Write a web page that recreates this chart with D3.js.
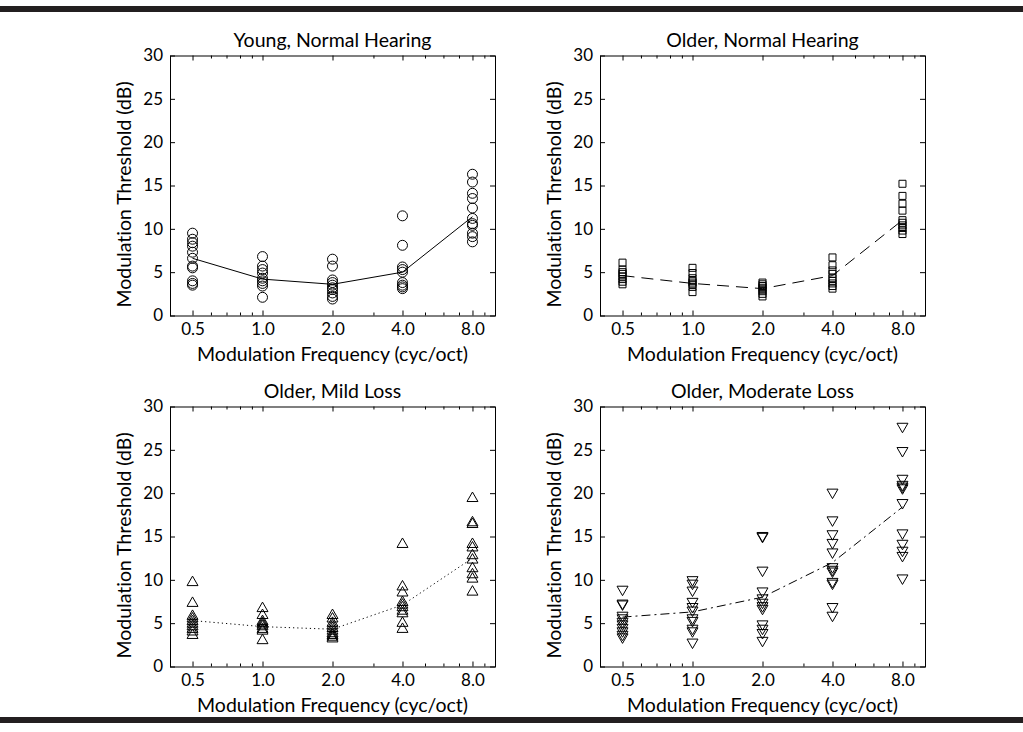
<!DOCTYPE html>
<html>
<head>
<meta charset="utf-8">
<script src="https://cdn.jsdelivr.net/npm/d3@7/dist/d3.min.js"></script>
<style>
  body { margin: 0; background: #fff; }
  svg { display: block; font-family: Lato, "Open Sans", sans-serif; font-variant-ligatures: none; }
</style>
</head>
<body>
<div id="chart"></div>
<script>
// modulation frequencies (cyc/oct), log axis
var freqs = [0.5, 1, 2, 4, 8];
var freqLabels = ["0.5", "1.0", "2.0", "4.0", "8.0"];
var minorFreqs = [0.6, 0.7, 0.8, 0.9, 3, 5, 6, 7, 9];
var yTicks = [0, 5, 10, 15, 20, 25, 30];

// individual thresholds (dB), one array per frequency
var youngNormal = [
  [9.5, 8.8, 8.4, 8.0, 7.3, 6.6, 5.7, 5.5, 4.0, 3.7, 3.5],
  [6.8, 5.7, 5.3, 4.9, 4.3, 4.0, 3.7, 3.4, 2.1],
  [6.5, 5.7, 4.1, 3.8, 3.5, 3.2, 3.0, 2.6, 2.2, 1.9],
  [11.5, 8.1, 5.6, 5.3, 5.0, 3.8, 3.5, 3.3, 3.1],
  [16.3, 15.4, 14.1, 13.5, 12.4, 11.2, 10.6, 10.4, 9.5, 9.1, 8.5]
];
var youngNormalMean = [6.6, 4.2, 3.6, 5.0, 11.4];

var olderNormal = [
  [6.1, 5.3, 5.0, 4.8, 4.5, 4.2, 3.9, 3.6],
  [5.5, 4.9, 4.3, 4.0, 3.8, 3.6, 3.3, 2.7],
  [3.8, 3.6, 3.4, 3.2, 3.0, 2.8, 2.5, 2.2],
  [6.7, 5.8, 5.2, 4.8, 4.3, 4.0, 3.7, 3.4, 3.1],
  [15.2, 13.8, 12.9, 12.1, 11.0, 10.7, 10.4, 10.1, 9.8, 9.4]
];
var olderNormalMean = [4.6, 3.7, 3.1, 4.6, 11.0];

var olderMild = [
  [9.7, 7.3, 5.8, 5.5, 5.2, 4.9, 4.6, 4.3, 4.0, 3.6],
  [6.7, 5.9, 5.2, 5.0, 4.8, 4.6, 4.3, 4.1, 3.0],
  [5.9, 5.5, 5.0, 4.7, 4.4, 4.1, 3.8, 3.6, 3.4, 3.2],
  [14.1, 9.2, 8.5, 7.4, 7.1, 6.8, 6.4, 6.1, 5.0, 4.3],
  [19.4, 16.6, 16.4, 14.1, 13.7, 12.8, 12.3, 11.3, 10.6, 10.1, 8.6]
];
var olderMildMean = [5.3, 4.6, 4.3, 7.1, 12.5];

var olderModerate = [
  [8.9, 7.3, 7.2, 5.9, 5.6, 5.2, 4.9, 4.5, 4.1, 3.7, 3.4],
  [10.0, 9.6, 8.8, 7.5, 6.9, 6.5, 5.6, 5.3, 4.4, 4.1, 2.8],
  [15.1, 15.0, 11.1, 8.7, 7.9, 7.4, 7.0, 6.7, 4.9, 4.4, 3.9, 3.0],
  [20.1, 16.9, 15.3, 14.3, 13.2, 11.5, 11.2, 11.0, 9.8, 9.6, 6.9, 5.9],
  [27.7, 24.9, 21.7, 21.0, 20.8, 20.6, 18.9, 15.4, 14.2, 13.4, 12.8, 10.2]
];
var olderModerateMean = [5.7, 6.3, 8.0, 12.0, 18.4];

var panels = [
  { title: "Young, Normal Hearing", data: youngNormal, mean: youngNormalMean, sym: "circle", dash: null, left: 170, top: 55.5 },
  { title: "Older, Normal Hearing", data: olderNormal, mean: olderNormalMean, sym: "square", dash: "12,7", left: 600, top: 55.5 },
  { title: "Older, Mild Loss", data: olderMild, mean: olderMildMean, sym: "up", dash: "1.2,3", left: 170, top: 406.5 },
  { title: "Older, Moderate Loss", data: olderModerate, mean: olderModerateMean, sym: "down", dash: "9,4,2,4", left: 600, top: 406.5 }
];

var W = 1023, H = 732;
var pw = 325, ph = 260;
var labelSize = 19.5, tickSize = 17;

var svg = d3.select("#chart").append("svg")
  .attr("width", W)
  .attr("height", H);

// rules top and bottom
svg.append("rect").attr("x", 0).attr("y", 6).attr("width", W).attr("height", 6).attr("fill", "#231f20");
svg.append("rect").attr("x", 0).attr("y", 717).attr("width", W).attr("height", 6).attr("fill", "#231f20");

panels.forEach(function (p) {
  var x = d3.scaleLog().domain([0.4, 10]).range([0, pw]);
  var y = d3.scaleLinear().domain([0, 30]).range([ph, 0]);

  var g = svg.append("g").attr("transform", "translate(" + p.left + "," + p.top + ")");

  // minor ticks
  g.append("g").attr("transform", "translate(0," + ph + ")")
    .call(d3.axisBottom(x).tickValues(minorFreqs).tickSize(-3).tickFormat(""));
  g.append("g")
    .call(d3.axisTop(x).tickValues(minorFreqs).tickSize(-3).tickFormat(""));

  // major ticks
  g.append("g").attr("transform", "translate(0," + ph + ")")
    .call(d3.axisBottom(x).tickValues(freqs).tickSize(-5).tickPadding(7)
      .tickFormat(function (d, i) { return freqLabels[i]; }));
  g.append("g")
    .call(d3.axisTop(x).tickValues(freqs).tickSize(-5).tickFormat(""));
  g.append("g")
    .call(d3.axisLeft(y).tickValues(yTicks).tickSize(-5).tickPadding(7));
  g.append("g").attr("transform", "translate(" + pw + ",0)")
    .call(d3.axisRight(y).tickValues(yTicks).tickSize(-5).tickFormat(""));

  g.selectAll(".domain").remove();
  g.selectAll(".tick line").attr("stroke", "#000");
  g.selectAll(".tick text").attr("fill", "#000").attr("font-size", tickSize)
    .attr("font-family", "Lato, 'Open Sans', sans-serif");

  // frame
  g.append("rect").attr("x", 0.5).attr("y", 0.5).attr("width", pw).attr("height", ph)
    .attr("fill", "none").attr("stroke", "#000").attr("stroke-width", 1);

  // mean line
  var line = d3.line()
    .x(function (d, i) { return x(freqs[i]); })
    .y(function (d) { return y(d); });
  g.append("path").datum(p.mean)
    .attr("d", line)
    .attr("fill", "none")
    .attr("stroke", "#000")
    .attr("stroke-width", 1)
    .attr("stroke-dasharray", p.dash);

  // individual points
  var pts = [];
  p.data.forEach(function (vals, i) {
    vals.forEach(function (v) { pts.push({ f: freqs[i], v: v }); });
  });
  var sym;
  if (p.sym === "circle") sym = d3.symbol(d3.symbolCircle, 78);
  else if (p.sym === "square") sym = d3.symbol(d3.symbolSquare, 49);
  else sym = d3.symbol(d3.symbolTriangle, 52);
  g.selectAll(".pt").data(pts).enter().append("path")
    .attr("class", "pt")
    .attr("d", sym)
    .attr("transform", function (d) {
      return "translate(" + x(d.f) + "," + y(d.v) + ")" + (p.sym === "down" ? " rotate(180)" : "");
    })
    .attr("fill", "none")
    .attr("stroke", "#000")
    .attr("stroke-width", 1);

  // titles
  g.append("text")
    .attr("x", pw / 2).attr("y", -9)
    .attr("text-anchor", "middle")
    .attr("font-size", labelSize)
    .text(p.title);
  g.append("text")
    .attr("x", pw / 2).attr("y", ph + 45)
    .attr("text-anchor", "middle")
    .attr("font-size", labelSize)
    .text("Modulation Frequency (cyc/oct)");
  g.append("text")
    .attr("transform", "translate(-39," + (ph / 2 + 9) + ") rotate(-90)")
    .attr("text-anchor", "middle")
    .attr("font-size", labelSize)
    .text("Modulation Threshold (dB)");
});
</script>
</body>
</html>
